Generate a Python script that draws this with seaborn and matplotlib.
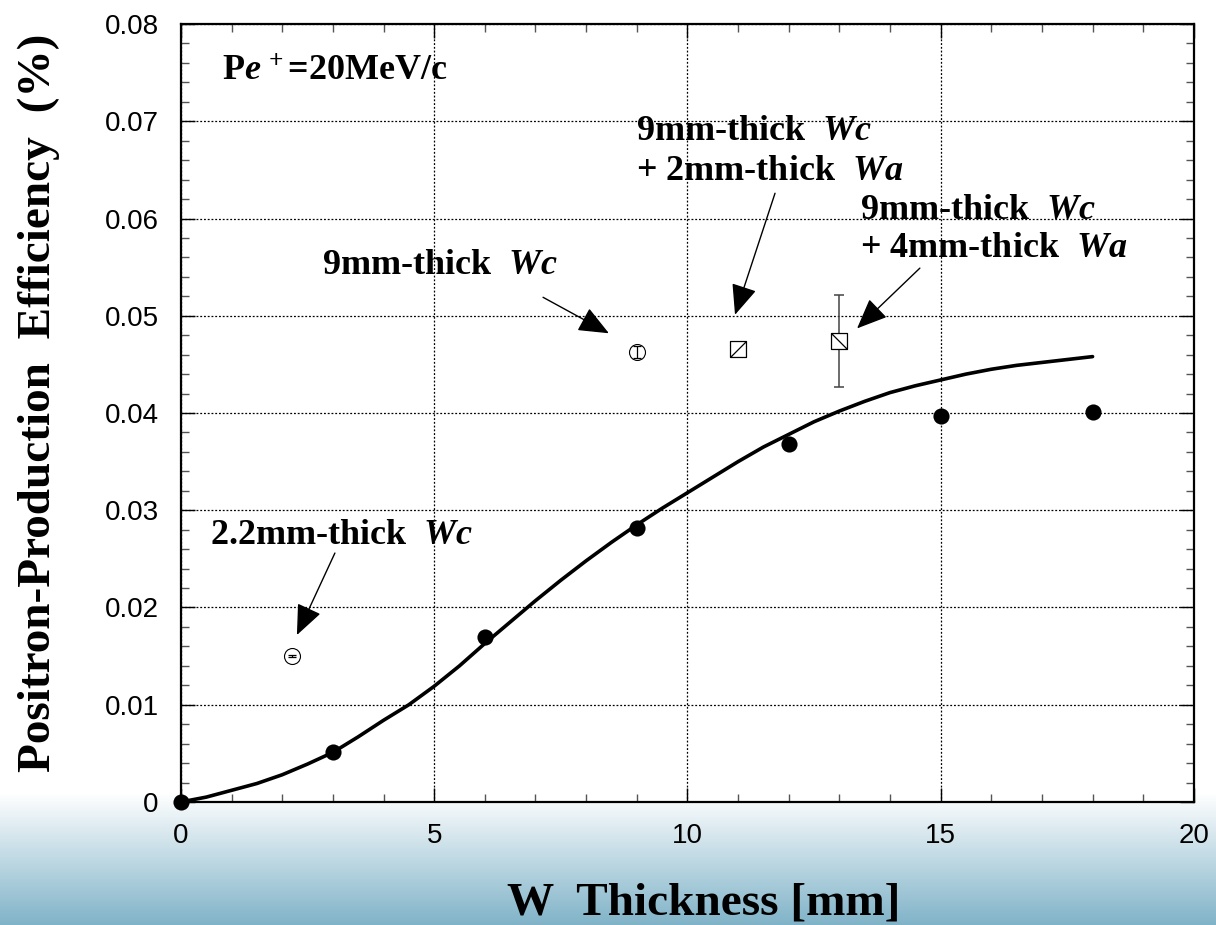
import numpy as np
import seaborn as sns
import matplotlib.pyplot as plt
from matplotlib.path import Path
from matplotlib.ticker import MultipleLocator, FuncFormatter

# measured points (filled circles)
thick = [0, 3, 6, 9, 12, 15, 18]
eff = [0.0, 0.00515, 0.0170, 0.0282, 0.0368, 0.0397, 0.0401]

curve_x = [0, 0.5, 1, 1.5, 2, 2.5, 3, 3.5, 4, 4.5, 5, 5.5, 6, 6.5, 7, 7.5, 8, 8.5, 9,
           9.5, 10, 10.5, 11, 11.5, 12, 12.5, 13, 13.5, 14, 14.5, 15, 15.5, 16,
           16.5, 17, 17.5, 18]
curve_y = [0.0, 0.0005, 0.0012, 0.0019, 0.0028, 0.0039, 0.0051, 0.0067, 0.0084,
           0.0100, 0.0119, 0.0140, 0.0163, 0.0185, 0.0207, 0.0228, 0.0248, 0.0267,
           0.0285, 0.0302, 0.0318, 0.0334, 0.0350, 0.0365, 0.0378, 0.0391, 0.0402,
           0.0412, 0.0421, 0.0428, 0.0434, 0.0440, 0.0445, 0.0449, 0.0452, 0.0455,
           0.0458]

# open-symbol samples
wc_x = [2.2, 9]
wc_y = [0.0150, 0.0463]
wc_err = [0.0001, 0.0006]
wa2_x, wa2_y = 11, 0.0466
wa4_x, wa4_y, wa4_err = 13, 0.0474, 0.0047

sns.set_style("ticks")
plt.rcParams['font.family'] = ['Liberation Sans', 'DejaVu Sans']
plt.rcParams['text.color'] = 'black'
plt.rcParams['xtick.color'] = 'black'
plt.rcParams['ytick.color'] = 'black'
plt.rcParams['axes.labelcolor'] = 'black'
plt.rcParams['mathtext.fontset'] = 'custom'
plt.rcParams['mathtext.rm'] = 'Liberation Serif:bold'
plt.rcParams['mathtext.bf'] = 'Liberation Serif:bold'
plt.rcParams['mathtext.it'] = 'Liberation Serif:italic:bold'

fig = plt.figure(figsize=(12.16, 9.25), dpi=100)

# blue gradient band at the bottom
bg = fig.add_axes([0, 0, 1, 0.142], zorder=-5)
grad = np.linspace(1, 0, 256).reshape(-1, 1)
top_c = np.array([1.0, 1.0, 1.0])
bot_c = np.array([0x80, 0xb3, 0xc8]) / 255
img = top_c * grad[..., None] + bot_c * (1 - grad[..., None])
bg.imshow(img, aspect='auto', extent=[0, 1, 0, 1])
bg.axis('off')

ax = fig.add_axes([0.1488, 0.133, 0.833, 0.841])
ax.set_facecolor('white')

sns.lineplot(x=curve_x, y=curve_y, ax=ax, color='black', lw=2.6, zorder=3)
sns.scatterplot(x=thick, y=eff, ax=ax, color='black', s=135, linewidth=0,
                zorder=5, clip_on=False)

# 2.2mm and 9mm Wc: open circles with small error bars inside
ax.plot(wc_x, wc_y, 'o', ms=11.5, mfc='white', mec='black', mew=0.8, ls='none', zorder=5)
ax.errorbar(wc_x, wc_y, yerr=wc_err, fmt='none', ecolor='black', elinewidth=0.9,
            capsize=3, capthick=0.9, zorder=6)

# squares with diagonal
def square_marker(slash=True):
    diag = [(-1, -1), (1, 1)] if slash else [(-1, 1), (1, -1)]
    verts = [(-1, -1), (1, -1), (1, 1), (-1, 1), (-1, -1)] + diag
    codes = [Path.MOVETO, Path.LINETO, Path.LINETO, Path.LINETO, Path.CLOSEPOLY,
             Path.MOVETO, Path.LINETO]
    return Path(verts, codes)

ax.errorbar([wa4_x], [wa4_y], yerr=[wa4_err], fmt='none', ecolor='#444444',
            elinewidth=1.1, capsize=3.6, capthick=1.1, zorder=4)
ax.plot([wa2_x], [wa2_y], marker=square_marker(True), ms=11.5, mfc='white',
        mec='black', mew=0.9, ls='none', zorder=5)
ax.plot([wa4_x], [wa4_y], marker=square_marker(False), ms=11.5, mfc='white',
        mec='black', mew=0.9, ls='none', zorder=5)

# labels
tkw = dict(fontsize=26, family='Liberation Serif', fontweight='bold', va='baseline',
           ha='left', color='black', zorder=7)
ax.text(0.81, 0.0742, r'P$e^{\,+}$=20MeV/c', **tkw)
ax.text(0.57, 0.02653, r'2.2mm-thick  $Wc$', **tkw)
ax.text(2.78, 0.0543, r'9mm-thick  $Wc$', **tkw)
ax.text(8.98, 0.0681, r'9mm-thick  $Wc$', **tkw)
ax.text(8.98, 0.0640, r'+ 2mm-thick  $Wa$', **tkw)
ax.text(13.41, 0.0600, r'9mm-thick  $Wc$', **tkw)
ax.text(13.41, 0.0560, r'+ 4mm-thick  $Wa$', **tkw)

arrow = dict(arrowstyle='-|>,head_length=1.9,head_width=0.8', color='black', lw=1,
             shrinkA=0, shrinkB=0, mutation_scale=10)
ax.annotate('', xy=(2.29, 0.01717), xytext=(3.04, 0.0256), arrowprops=arrow)
ax.annotate('', xy=(8.45, 0.0482), xytext=(7.15, 0.0519), arrowprops=arrow)
ax.annotate('', xy=(10.94, 0.0501), xytext=(11.73, 0.0626), arrowprops=arrow)
ax.annotate('', xy=(13.35, 0.0487), xytext=(14.59, 0.0549), arrowprops=arrow)

ax.set_xlim(0, 20)
ax.set_ylim(0, 0.08)
ax.xaxis.set_major_locator(MultipleLocator(5))
ax.xaxis.set_minor_locator(MultipleLocator(1))
ax.yaxis.set_major_locator(MultipleLocator(0.01))
ax.yaxis.set_minor_locator(MultipleLocator(0.002))
ax.yaxis.set_major_formatter(FuncFormatter(lambda v, p: '0' if abs(v) < 1e-9 else f'{v:.2f}'))
ax.grid(True, which='major', color='black', linestyle=(0, (1.5, 1.5)), lw=0.9)
ax.tick_params(which='both', direction='in', top=True, right=True, labelsize=20,
               labelcolor='black')
ax.tick_params(which='major', length=10, width=1, color='black')
ax.tick_params(which='minor', length=6, width=1, color='#555555')
ax.tick_params(axis='y', which='major', pad=16)
ax.tick_params(axis='x', which='major', pad=15)
for s in ax.spines.values():
    s.set_linewidth(1.6)
    s.set_color('black')

ax.set_xlabel('W  Thickness [mm]', fontsize=34, family='Liberation Serif',
              fontweight='bold', color='black')
ax.set_ylabel('Positron-Production  Efficiency  (%)', fontsize=34,
              family='Liberation Serif', fontweight='bold', color='black')
ax.xaxis.set_label_coords(0.516, -0.103)
ax.yaxis.set_label_coords(-0.119, 0.513)

fig.savefig('out.png', dpi=100)
